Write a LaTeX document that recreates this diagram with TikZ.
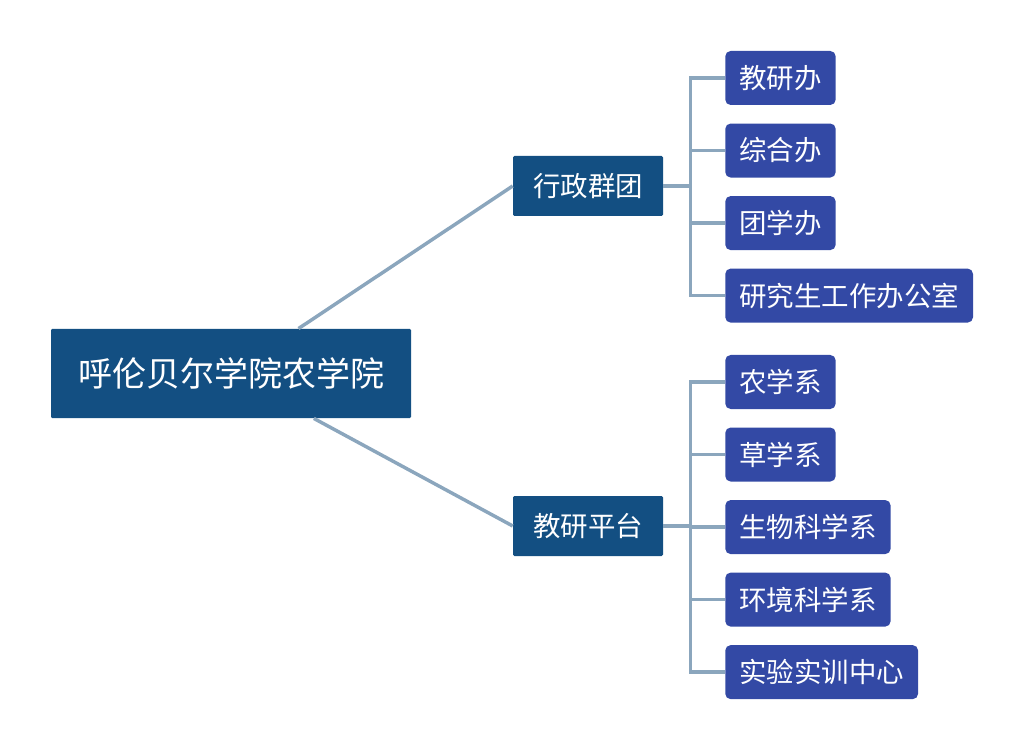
\documentclass[tikz,border=0pt]{standalone}
\usepackage{fontspec}
\newfontfamily\cjk{Noto Sans CJK SC}
\usetikzlibrary{positioning, calc}

\definecolor{rootblue}{HTML}{134F82}
\definecolor{leafblue}{HTML}{3349A5}
\definecolor{linkgray}{HTML}{8BA6BD}

\begin{document}
\begin{tikzpicture}[
    x=0.75pt, y=-0.75pt,
    rootbox/.style={fill=rootblue, text=white, rounded corners=1pt, minimum width=270pt, minimum height=67pt, inner sep=0pt, font=\cjk\fontsize{25.5pt}{30pt}\selectfont},
    groupbox/.style={fill=rootblue, text=white, rounded corners=1pt, minimum width=112.5pt, minimum height=45pt, inner sep=0pt, font=\cjk\fontsize{20.6pt}{24pt}\selectfont},
    leaf/.style={fill=leafblue, text=white, rounded corners=4pt, minimum height=40.5pt, inner ysep=0pt, inner xsep=10.5pt, font=\cjk\fontsize{20.6pt}{24pt}\selectfont},
    link/.style={draw=linkgray, line width=2.6pt}
]
\useasboundingbox (0,0) rectangle (1024,748);

% Root
\node[rootbox] (root) at (231,373.5) {呼伦贝尔学院农学院};

% Two groups
\node[groupbox] (admin) at (588,186) {行政群团};
\node[groupbox] (teach) at (588,526) {教研平台};

% Leaves of the first group
\node[leaf, anchor=west] (a1) at (725,78) {教研办};
\node[leaf, below=13.5pt of a1.south west, anchor=north west] (a2) {综合办};
\node[leaf, below=13.5pt of a2.south west, anchor=north west] (a3) {团学办};
\node[leaf, below=13.5pt of a3.south west, anchor=north west] (a4) {研究生工作办公室};

% Leaves of the second group
\node[leaf, anchor=west] (t1) at (725,382) {农学系};
\node[leaf, below=13.5pt of t1.south west, anchor=north west] (t2) {草学系};
\node[leaf, below=13.5pt of t2.south west, anchor=north west] (t3) {生物科学系};
\node[leaf, below=13.5pt of t3.south west, anchor=north west] (t4) {环境科学系};
\node[leaf, below=13.5pt of t4.south west, anchor=north west] (t5) {实验实训中心};

% Root to groups
\draw[link] (root) -- (admin.west);
\draw[link] (root) -- (teach.west);

% Bus of the first group
\coordinate (ba) at ($(admin.east)+(27,0)$);
\draw[link] (admin.east) -- (ba);
\draw[link] (a1.west) -| (ba);
\draw[link] (a2.west) -| (ba);
\draw[link] (a3.west) -| (ba);
\draw[link] (a4.west) -| (ba);

% Bus of the second group
\coordinate (bt) at ($(teach.east)+(27,0)$);
\draw[link] (teach.east) -- (bt);
\draw[link] (t1.west) -| (bt);
\draw[link] (t2.west) -| (bt);
\draw[link] (t3.west) -| (bt);
\draw[link] (t4.west) -| (bt);
\draw[link] (t5.west) -| (bt);

\end{tikzpicture}
\end{document}
